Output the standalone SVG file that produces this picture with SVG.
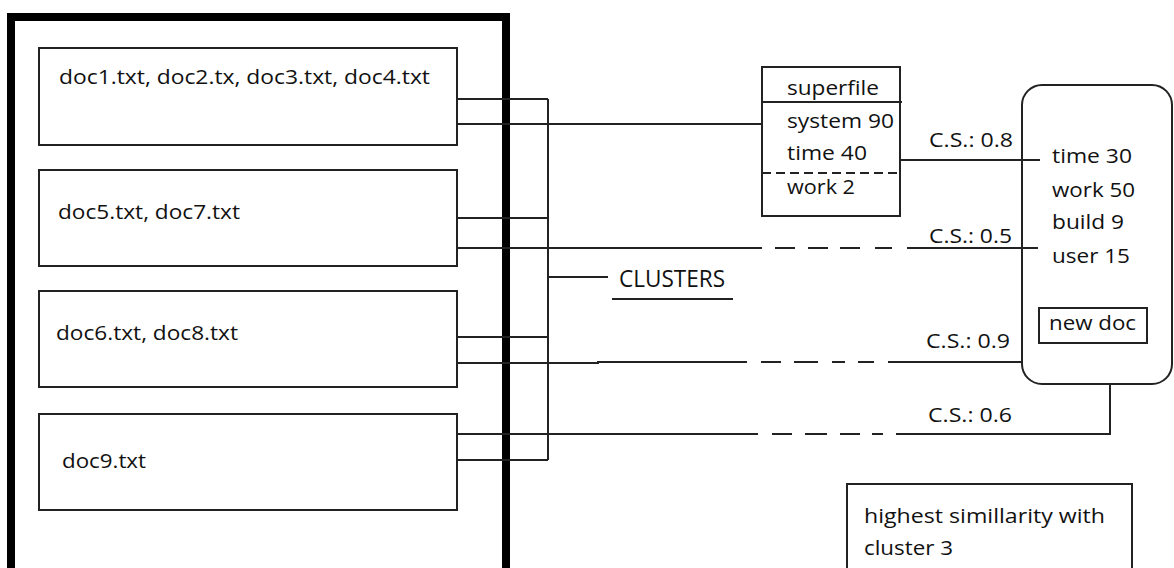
<svg xmlns="http://www.w3.org/2000/svg" width="1174" height="568" viewBox="0 0 1174 568">
<style>
text{font-family:"Open Sans","Liberation Sans",Arial,sans-serif;font-size:20px;fill:#111;}
.box{fill:#fff;stroke:#222;stroke-width:2;}
.ln{fill:none;stroke:#222;stroke-width:2;}
.big{font-size:24px;}
</style>
<rect width="1174" height="568" fill="#fff"/>
<g id="cluster-container">
<path d="M11,575 V17 H506 V575" fill="none" stroke="#000" stroke-width="8"/>
</g>
<g id="doc-cluster-1">
<rect class="box" x="39" y="48" width="418" height="97"/>
<text x="59" y="84" textLength="371" lengthAdjust="spacingAndGlyphs">doc1.txt, doc2.tx, doc3.txt, doc4.txt</text>
</g>
<g id="doc-cluster-2">
<rect class="box" x="39" y="170" width="418" height="96"/>
<text x="58" y="219" textLength="182" lengthAdjust="spacingAndGlyphs">doc5.txt, doc7.txt</text>
</g>
<g id="doc-cluster-3">
<rect class="box" x="39" y="291" width="418" height="96"/>
<text x="56" y="340" textLength="182" lengthAdjust="spacingAndGlyphs">doc6.txt, doc8.txt</text>
</g>
<g id="doc-cluster-4">
<rect class="box" x="39" y="414" width="418" height="96"/>
<text x="62" y="468" textLength="84" lengthAdjust="spacingAndGlyphs">doc9.txt</text>
</g>
<g id="connectors">
<path class="ln" d="M457,99 H548 M457,124 H762 M457,218 H548 M457,248 H762 M457,337 H548 M457,363 H598 V362 H747 M457,434 H758 M457,460 H548 M548,99 V460 M548,277 H608"/>
<path class="ln" d="M775,248 H795 M808,248 H828 M840,248 H860 M875,248 H892 M907,248 H1038"/>
<path class="ln" d="M761,362 H781 M794,362 H818 M832,362 H845 M858,362 H874 M888,362 H1022"/>
<path class="ln" d="M772,434 H792 M805,434 H827 M840,434 H860 M872,434 H883 M896,434 H1110 V384"/>
<path class="ln" d="M885,160 H1040"/>
<text x="929" y="147" textLength="84" lengthAdjust="spacingAndGlyphs">C.S.: 0.8</text>
<text x="929" y="243" textLength="83" lengthAdjust="spacingAndGlyphs">C.S.: 0.5</text>
<text x="926" y="348" textLength="84" lengthAdjust="spacingAndGlyphs">C.S.: 0.9</text>
<text x="928" y="422" textLength="84" lengthAdjust="spacingAndGlyphs">C.S.: 0.6</text>
</g>
<g id="clusters-label">
<text class="big" x="619" y="287" textLength="106" lengthAdjust="spacingAndGlyphs">CLUSTERS</text>
<path class="ln" d="M612,299 H733"/>
</g>
<g id="superfile">
<rect class="box" x="762" y="67" width="138" height="149"/>
<path class="ln" d="M762,102 H902"/>
<path class="ln" d="M762,173 H900" stroke-dasharray="9 5"/>
<text x="787" y="95" textLength="92" lengthAdjust="spacingAndGlyphs">superfile</text>
<text x="787" y="128" textLength="107" lengthAdjust="spacingAndGlyphs">system 90</text>
<text x="787" y="160" textLength="80" lengthAdjust="spacingAndGlyphs">time 40</text>
<text x="787" y="194" textLength="68" lengthAdjust="spacingAndGlyphs">work 2</text>
</g>
<g id="new-doc">
<rect class="box" x="1022" y="85" width="150" height="299" rx="20" ry="20" style="fill:none"/>
<text x="1052" y="163" textLength="80" lengthAdjust="spacingAndGlyphs">time 30</text>
<text x="1052" y="197" textLength="83" lengthAdjust="spacingAndGlyphs">work 50</text>
<text x="1052" y="229" textLength="72" lengthAdjust="spacingAndGlyphs">build 9</text>
<text x="1052" y="263" textLength="78" lengthAdjust="spacingAndGlyphs">user 15</text>
<rect class="box" x="1039" y="308" width="108" height="35"/>
<text x="1049" y="330" textLength="87" lengthAdjust="spacingAndGlyphs">new doc</text>
</g>
<g id="result">
<rect class="box" x="847" y="484" width="285" height="100"/>
<text x="864" y="523" textLength="241" lengthAdjust="spacingAndGlyphs">highest simillarity with</text>
<text x="864" y="555" textLength="89" lengthAdjust="spacingAndGlyphs">cluster 3</text>
</g>
</svg>
